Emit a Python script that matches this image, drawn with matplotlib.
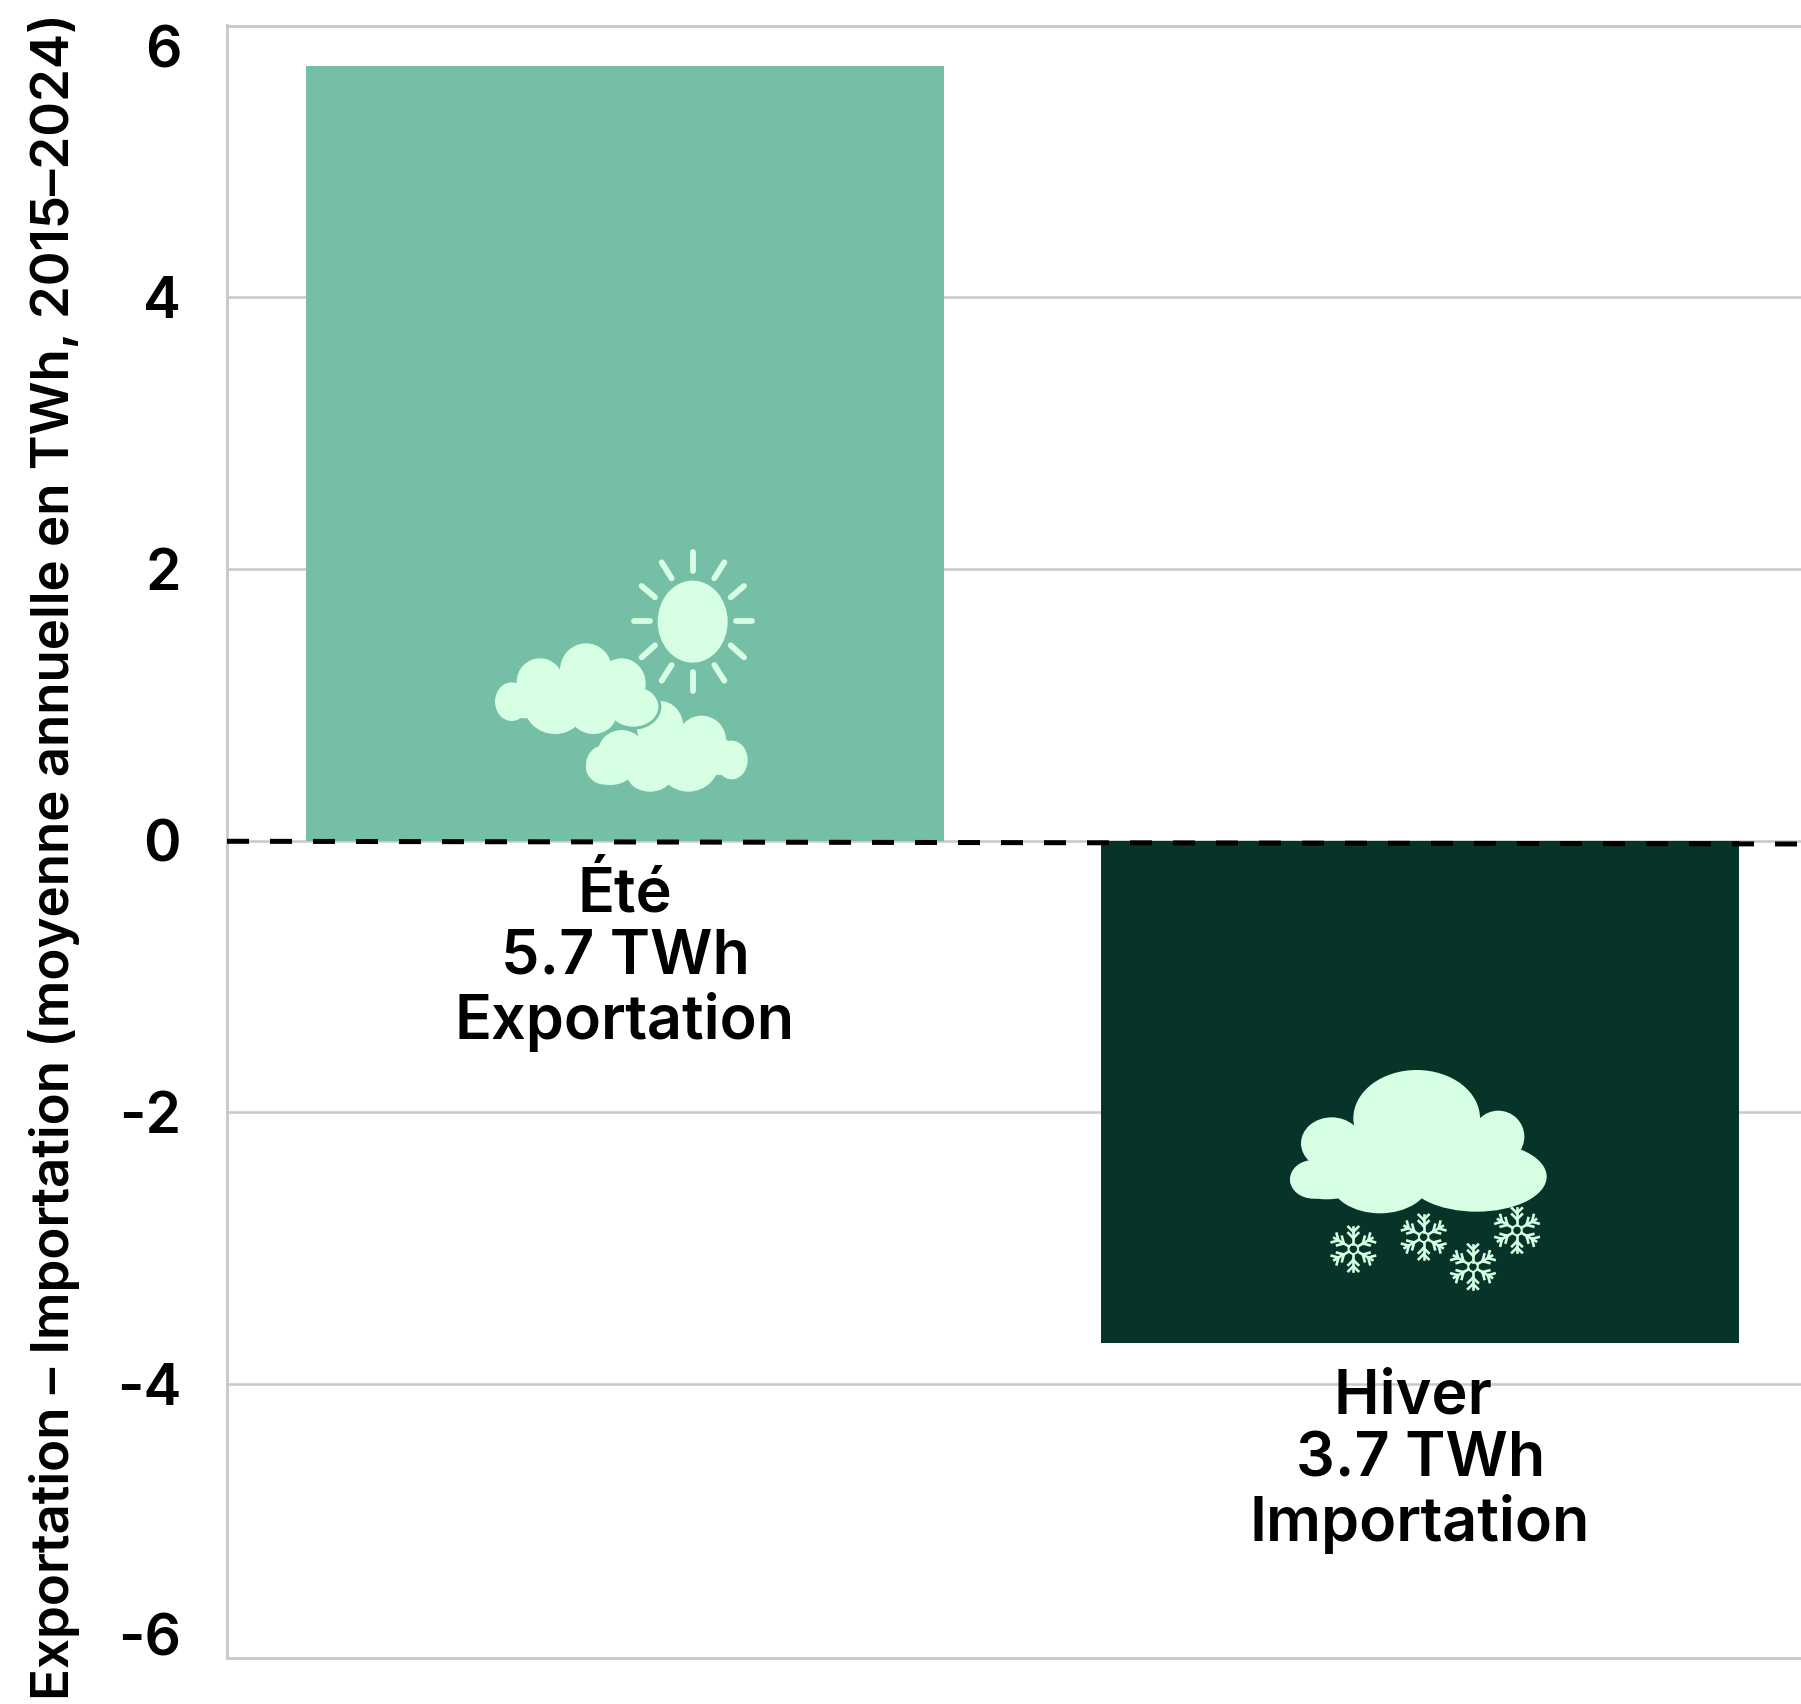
import numpy as np
import matplotlib
matplotlib.use('Agg')
import matplotlib.pyplot as plt
from matplotlib.patches import Ellipse, Polygon
from matplotlib.transforms import Affine2D

# donnees du graphique
categories = ['Été', 'Hiver']
valeurs = [5.7, -3.7]
etiquettes = ['Été\n5.7 TWh\nExportation', 'Hiver \n3.7 TWh\nImportation']
couleurs = ['#74bfa6', '#063428']
graduations = [6, 4, 2, 0, -2, -4, -6]
grad_labels = ['6', '4', '2', '0', '-2', '-4', '-6']
titre_y = 'Exportation – Importation (moyenne annuelle en TWh, 2015–2024)'

W, H = 1801, 1704
CLAIR = '#d6ffe3'
GRIS = '#c8c8c8'

plt.rcParams['font.family'] = ['Inter', 'DejaVu Sans']

fig = plt.figure(figsize=(W / 100, H / 100), dpi=100)
ax = fig.add_axes([227 / W, 1 - 1658 / H, (W - 227) / W, (1658 - 25.5) / H])

x = np.arange(len(categories))
ax.bar(x, valeurs, width=0.803, color=couleurs, zorder=2)
ax.set_xlim(-0.5006, 1.479)
ax.set_ylim(-6.017, 5.99)

# grille et axes
ax.set_xticks([])
ax.set_yticks(graduations)
ax.set_yticklabels(grad_labels, fontsize=41, fontweight=600, color='black',
                   va='center_baseline')
ax.tick_params(axis='y', length=0, pad=33)
ax.grid(axis='y', color=GRIS, linewidth=1.8, zorder=0)
ax.set_axisbelow(True)
lignes = ax.get_ygridlines()
lignes[0].set_visible(False)
lignes[-1].set_visible(False)
ax.spines['right'].set_visible(False)
for cote in ['left', 'top', 'bottom']:
    ax.spines[cote].set_color(GRIS)
    ax.spines[cote].set_linewidth(2)
labels = ax.get_yticklabels()
labels[0].set_va('top')
labels[-1].set_va('baseline')

# ligne pointillee du zero
ax.plot([-0.5006, 1.479], [-0.005, -0.025], color='black', linewidth=3.6,
        dashes=(4.4, 4.2), dash_capstyle='butt', zorder=3, clip_on=False)

# etiquettes des barres
for xi, v, txt in zip(x, valeurs, etiquettes):
    ax.text(xi, min(v, 0) - 0.87, txt, ha='center', va='center', fontsize=44,
            fontweight=600, linespacing=1.1, color='black', zorder=4)

fig.text(69 / W, 1 - 857 / H, titre_y, rotation=90, ha='center', va='baseline',
         rotation_mode='anchor', fontsize=38, fontweight=600, color='black')

# icones en pixels de l'image
px = Affine2D().scale(1 / W, -1 / H).translate(0, 1) + fig.transFigure


def lobes(liste, x0, y0, couleur=CLAIR, marge=0, z=5):
    for cx, cy, rx, ry in liste:
        fig.add_artist(Ellipse((x0 + cx / 3, y0 + cy / 3), 2 * (rx / 3 + marge),
                               2 * (ry / 3 + marge), facecolor=couleur,
                               edgecolor='none', transform=px, zorder=z))


def flocon(cx, cy, r=22):
    for a in np.radians(np.arange(30, 360, 60) + 60):
        d = np.array([np.cos(a), np.sin(a)])
        n = np.array([-d[1], d[0]])
        p0 = np.array([cx, cy]) + d * 5
        p1 = np.array([cx, cy]) + d * r
        traits = [(p0, p1)]
        for t in [0.5, 0.78]:
            base = np.array([cx, cy]) + d * r * t
            for s in [-1, 1]:
                traits.append((base, base + (d + s * n) * 0.3 * r * 0.75))
        for a1, a2 in traits:
            fig.add_artist(plt.Line2D([a1[0], a2[0]], [a1[1], a2[1]], color=CLAIR,
                                      linewidth=1.9, transform=px, zorder=6))
    ang = np.radians(np.arange(0, 360, 60) + 30)
    hexa = np.c_[cx + 5.5 * np.cos(ang), cy + 5.5 * np.sin(ang)]
    fig.add_artist(Polygon(hexa, closed=True, fill=False, edgecolor=CLAIR,
                           linewidth=1.4, transform=px, zorder=6))


# soleil
x0, y0 = 470, 530
fig.add_artist(Ellipse((x0 + 668 / 3, y0 + 275 / 3), 70, 82, facecolor=CLAIR,
                       edgecolor='none', transform=px, zorder=5))
rayons = [(668, 65, 668, 122), (763, 97, 733, 145), (822, 168, 782, 202),
          (798, 274, 845, 274), (782, 346, 822, 382), (733, 405, 763, 452),
          (668, 425, 668, 483), (605, 405, 575, 452), (555, 346, 515, 382),
          (492, 274, 540, 274), (515, 168, 555, 202), (575, 97, 605, 145)]
for xa, ya, xb, yb in rayons:
    fig.add_artist(plt.Line2D([x0 + xa / 3, x0 + xb / 3], [y0 + ya / 3, y0 + yb / 3],
                              color=CLAIR, linewidth=4.2, solid_capstyle='round',
                              transform=px, zorder=5))

# nuages d'ete
nuage2 = [(400, 705, 52, 58), (785, 690, 48, 58), (695, 630, 73, 73),
          (570, 590, 70, 77), (455, 670, 72, 70), (540, 730, 70, 55),
          (655, 690, 95, 95), (420, 715, 72, 50), (580, 680, 150, 70),
          (745, 680, 60, 55)]
nuage1 = [(125, 515, 50, 58), (210, 455, 70, 70), (348, 420, 78, 80),
          (455, 460, 72, 75), (490, 530, 75, 60), (255, 520, 95, 92),
          (370, 550, 70, 62), (340, 500, 150, 70), (165, 510, 65, 55)]
lobes(nuage2, x0, y0, z=5)
lobes(nuage1[4:], x0, y0, couleur=couleurs[0], marge=3, z=5.1)
lobes(nuage1, x0, y0, z=5.2)

# nuage d'hiver et flocons
x0, y0 = 1270, 1050
nuage3 = [(440, 205, 190, 145), (185, 280, 92, 78), (685, 260, 78, 78),
          (170, 390, 110, 58), (130, 388, 70, 58), (620, 380, 210, 105),
          (330, 390, 150, 100), (440, 330, 250, 100)]
lobes(nuage3, x0, y0)
for cx, cy in [(250, 597), (461, 561), (609, 650), (741, 541)]:
    flocon(x0 + cx / 3, y0 + cy / 3)

fig.savefig('out.png', dpi=100, facecolor='white')
